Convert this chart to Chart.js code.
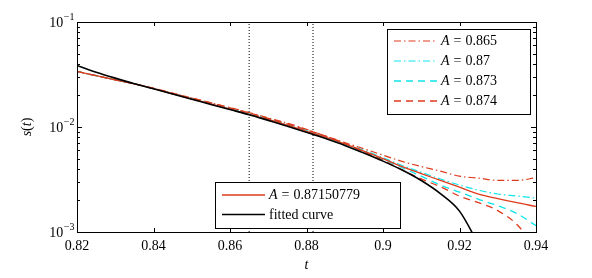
<!DOCTYPE html>
<html>
<head>
<meta charset="utf-8">
<script src="https://cdn.jsdelivr.net/npm/chart.js@4"></script>
<style>
    html, body { margin: 0; padding: 0; background: #fff; }
    canvas { display: block; }
</style>
</head>
<body>
<canvas id="chart" width="592" height="278"></canvas>
<script>
// sample times
const tValues = [0.82, 0.825, 0.83, 0.835, 0.84, 0.845, 0.85, 0.855, 0.86, 0.865, 0.87, 0.875,
                 0.88, 0.885, 0.89, 0.895, 0.9, 0.905, 0.91, 0.915, 0.92, 0.925, 0.93, 0.935, 0.94];

// s(t) for each A
const sA0865 = [0.0339, 0.0308, 0.0281, 0.0257, 0.0234, 0.0210, 0.0189, 0.0170, 0.0153, 0.0137, 0.0122, 0.0109,
                0.0095, 0.0082, 0.0071, 0.0062, 0.0054, 0.0047, 0.0042, 0.0038, 0.0034, 0.00326, 0.0031, 0.0031, 0.0033];
const sA087 = [0.0339, 0.0308, 0.0281, 0.0257, 0.0232, 0.0208, 0.0186, 0.0167, 0.0149, 0.0133, 0.0119, 0.0105,
               0.0092, 0.0080, 0.0069, 0.0060, 0.0051, 0.0043, 0.0037, 0.0032, 0.0028, 0.0025, 0.0023, 0.0022, 0.0021];
const sA0873 = [0.0339, 0.0308, 0.0281, 0.0257, 0.0232, 0.0208, 0.0186, 0.0167, 0.0149, 0.0133, 0.0119, 0.0105,
                0.0092, 0.0080, 0.0068, 0.0058, 0.0049, 0.0041, 0.0034, 0.0028, 0.0024, 0.00205, 0.00178, 0.0015, 0.00115];
const sA0874 = [0.0339, 0.0308, 0.0281, 0.0257, 0.0234, 0.0210, 0.0189, 0.0170, 0.0152, 0.0136, 0.0121, 0.0107,
                0.0094, 0.0082, 0.0070, 0.0058, 0.0048, 0.0039, 0.0032, 0.0027, 0.0022, 0.0019, 0.0016, 0.00118, 0.0007];
const sAbest = [0.0339, 0.0308, 0.0281, 0.0257, 0.0232, 0.0207, 0.0185, 0.0166, 0.0148, 0.0132, 0.0118, 0.0104,
                0.0091, 0.0080, 0.0069, 0.0059, 0.0050, 0.0042, 0.0036, 0.0031, 0.00267, 0.0023, 0.00208, 0.0019, 0.00175];
const sFitted = [0.0386, 0.0333, 0.0292, 0.0258, 0.0231, 0.0206, 0.0184, 0.0164, 0.01465, 0.0131, 0.01156, 0.01019,
                 0.00891, 0.00776, 0.00668, 0.00565, 0.00473, 0.00389, 0.00309, 0.00232, 0.00158, 0.00076, null, null, null];

// fitting window
const windowT = [0.865, 0.8817];

// labels
const aLabels = ['0.865', '0.87', '0.873', '0.874'];
const bestLabel = '0.87150779';
const fittedLabel = 'fitted curve';

// axes
const xTicks = [0.82, 0.84, 0.86, 0.88, 0.9, 0.92, 0.94];
const yDecades = [0.001, 0.01, 0.1];
const yExponents = ['\u22123', '\u22122', '\u22121'];

const RED = '#dd3b1c';
const CYAN = '#10e4ea';
const SERIF = "'Liberation Serif', 'Times New Roman', serif";

function pts(ys) {
    return tValues.map((t, i) => ({ x: t, y: ys[i] }));
}

const curves = [
    { label: 'A = ' + aLabels[0], data: pts(sA0865), borderColor: RED, borderDash: [7, 3, 1.5, 3], borderWidth: 1.2, order: 5 },
    { label: 'A = ' + aLabels[1], data: pts(sA087), borderColor: CYAN, borderDash: [7, 3, 1.5, 3], borderWidth: 1.2, order: 4 },
    { label: 'A = ' + aLabels[2], data: pts(sA0873), borderColor: CYAN, borderDash: [7, 5], borderWidth: 1.3, order: 3 },
    { label: 'A = ' + aLabels[3], data: pts(sA0874), borderColor: RED, borderDash: [7, 5], borderWidth: 1.3, order: 2 },
    { label: 'A = ' + bestLabel, data: pts(sAbest), borderColor: RED, borderDash: [], borderWidth: 1.3, order: 1 },
    { label: fittedLabel, data: pts(sFitted), borderColor: '#000', borderDash: [], borderWidth: 1.6, order: 0 }
];
curves.forEach(c => { c.cubicInterpolationMode = 'monotone'; c.fill = false; });

const windowLines = windowT.map(t => ({
    label: '',
    data: [{ x: t, y: 0.001 }, { x: t, y: 0.1 }],
    borderColor: '#000',
    borderDash: [1, 2],
    borderWidth: 1,
    tension: 0,
    order: 6
}));

function drawLabel(ctx, text, x, y) {
    ctx.textBaseline = 'middle';
    ctx.textAlign = 'left';
    ctx.fillStyle = '#000';
    if (text.startsWith('A = ')) {
        ctx.font = 'italic 14px ' + SERIF;
        ctx.fillText('A', x, y);
        let cx = x + ctx.measureText('A').width + 4;
        ctx.font = '14px ' + SERIF;
        ctx.fillText('=', cx, y);
        cx += ctx.measureText('=').width + 4;
        ctx.fillText(text.slice(4), cx, y);
    } else {
        ctx.font = '14px ' + SERIF;
        ctx.fillText(text, x, y);
    }
}

function drawLegend(ctx, box, items) {
    ctx.save();
    ctx.fillStyle = '#fff';
    ctx.fillRect(box.x, box.y, box.w, box.h);
    ctx.strokeStyle = '#000';
    ctx.lineWidth = 1;
    ctx.setLineDash([]);
    ctx.strokeRect(box.x + 0.5, box.y + 0.5, box.w, box.h);
    items.forEach((ds, i) => {
        const y = box.y + box.first + i * box.step;
        ctx.strokeStyle = ds.borderColor;
        ctx.lineWidth = ds.borderWidth;
        ctx.setLineDash(ds.borderDash);
        ctx.beginPath();
        ctx.moveTo(box.x + 7, y);
        ctx.lineTo(box.x + 50, y);
        ctx.stroke();
        ctx.setLineDash([]);
        drawLabel(ctx, ds.label, box.x + 54, y + 0.5);
    });
    ctx.restore();
}

const decor = {
    id: 'decor',
    afterDatasetsDraw(chart) {
        const ctx = chart.ctx;
        const ds = chart.data.datasets;
        drawLegend(ctx, { x: 387, y: 29, w: 143, h: 85, first: 12, step: 20 }, ds.slice(0, 4));
        drawLegend(ctx, { x: 215, y: 182, w: 185, h: 46, first: 13, step: 19.5 }, ds.slice(4, 6));
    },
    afterDraw(chart) {
        const ctx = chart.ctx;
        const a = chart.chartArea;
        const xs = chart.scales.x;
        const ys = chart.scales.y;
        ctx.save();
        ctx.strokeStyle = '#000';
        ctx.lineWidth = 1;
        ctx.setLineDash([]);
        ctx.strokeRect(Math.round(a.left) + 0.5, Math.round(a.top) + 0.5,
                       Math.round(a.right - a.left), Math.round(a.bottom - a.top));

        // x ticks, inward on top and bottom
        ctx.beginPath();
        xTicks.forEach(v => {
            const px = Math.round(xs.getPixelForValue(v)) + 0.5;
            ctx.moveTo(px, a.bottom); ctx.lineTo(px, a.bottom - 4);
            ctx.moveTo(px, a.top); ctx.lineTo(px, a.top + 4);
        });
        // y ticks, major and minor, inward on both sides
        yDecades.forEach((d, k) => {
            const steps = k < yDecades.length - 1 ? [1, 2, 3, 4, 5, 6, 7, 8, 9] : [1];
            steps.forEach(m => {
                const py = Math.round(ys.getPixelForValue(d * m)) + 0.5;
                const len = m === 1 ? 5 : 3;
                ctx.moveTo(a.left, py); ctx.lineTo(a.left + len, py);
                ctx.moveTo(a.right, py); ctx.lineTo(a.right - len, py);
            });
        });
        ctx.stroke();

        // y tick labels 10^k
        ctx.fillStyle = '#000';
        ctx.textBaseline = 'alphabetic';
        ctx.textAlign = 'left';
        yDecades.forEach((d, k) => {
            const py = ys.getPixelForValue(d);
            ctx.font = '14px ' + SERIF;
            const wBase = ctx.measureText('10').width;
            ctx.font = '10px ' + SERIF;
            const wExp = ctx.measureText(yExponents[k]).width;
            const x0 = a.left - 3 - wBase - wExp;
            ctx.font = '14px ' + SERIF;
            ctx.fillText('10', x0, py + 5);
            ctx.font = '10px ' + SERIF;
            ctx.fillText(yExponents[k], x0 + wBase + 0.5, py - 2);
        });

        // axis titles
        ctx.font = 'italic 14px ' + SERIF;
        ctx.textAlign = 'center';
        ctx.textBaseline = 'middle';
        ctx.fillText('t', (a.left + a.right) / 2, 265);

        ctx.translate(27, (a.top + a.bottom) / 2);
        ctx.rotate(-Math.PI / 2);
        const parts = [['s', true], ['(', false], ['t', true], [')', false]];
        let total = 0;
        parts.forEach(p => {
            ctx.font = (p[1] ? 'italic ' : '') + '14px ' + SERIF;
            total += ctx.measureText(p[0]).width;
        });
        let cx = -total / 2;
        ctx.textAlign = 'left';
        parts.forEach(p => {
            ctx.font = (p[1] ? 'italic ' : '') + '14px ' + SERIF;
            ctx.fillText(p[0], cx, 0);
            cx += ctx.measureText(p[0]).width;
        });
        ctx.restore();
    }
};

new Chart(document.getElementById('chart').getContext('2d'), {
    type: 'line',
    data: { datasets: curves.concat(windowLines) },
    options: {
        responsive: false,
        animation: false,
        layout: { padding: { left: 0, right: 56, top: 22, bottom: 0 } },
        plugins: { legend: { display: false }, tooltip: { enabled: false } },
        elements: { point: { radius: 0 } },
        scales: {
            x: {
                type: 'linear',
                min: 0.82,
                max: 0.94,
                grid: { display: false, drawTicks: false },
                border: { display: false },
                afterBuildTicks: s => { s.ticks = xTicks.map(v => ({ value: v })); },
                afterFit: s => { s.height = 46; },
                ticks: {
                    padding: 6,
                    maxRotation: 0,
                    color: '#000',
                    font: { family: SERIF, size: 14 },
                    callback: v => String(parseFloat(Number(v).toFixed(2)))
                }
            },
            y: {
                type: 'logarithmic',
                min: 0.001,
                max: 0.1,
                grid: { display: false, drawTicks: false },
                border: { display: false },
                ticks: { display: false },
                afterFit: s => { s.width = 77; }
            }
        }
    },
    plugins: [decor]
});
</script>
</body>
</html>
